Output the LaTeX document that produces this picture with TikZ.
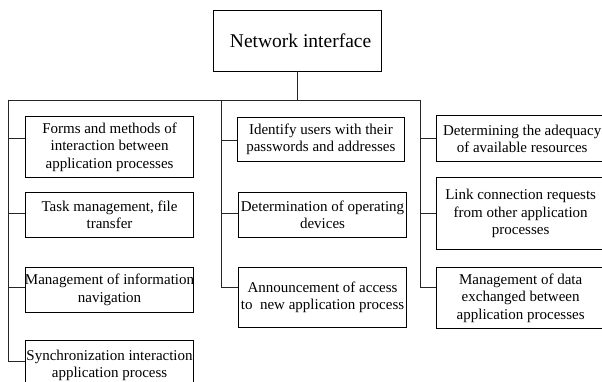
\documentclass[tikz,border=0pt]{standalone}
\usepackage{fontspec}
\setmainfont{Liberation Serif}
\newcommand\cl[1]{\makebox[0pt]{#1}}
\begin{document}
\begin{tikzpicture}[x=1pt,y=-1pt,
  box/.style={draw=black,line width=0.8pt,inner sep=0pt,anchor=north west,align=center,
    font=\fontsize{15}{17.5}\selectfont},
  wire/.style={draw=black!85,line width=0.7pt}]
\useasboundingbox (0,0) rectangle (602,382);
\clip (0,0) rectangle (602,382);
\node[box,minimum width=168pt,minimum height=60.7pt,font=\fontsize{19.5}{22}\selectfont] (title) at (212.7,10) {\cl{\hspace*{7pt}Network interface}};
% left column
\node[box,minimum width=168.3pt,minimum height=61.3pt] (forms) at (25,116) {\cl{Forms and methods of}\\\cl{interaction between}\\\cl{application processes}};
\node[box,minimum width=168.3pt,minimum height=45pt] (task) at (25,191.7) {\cl{Task management, file}\\\cl{transfer}};
\node[box,minimum width=168.3pt,minimum height=45pt] (info) at (25,266.7) {\cl{Management of information}\\\cl{navigation}};
\node[box,minimum width=168.3pt,minimum height=50pt] (sync) at (25,340) {\cl{Synchronization interaction}\\\cl{application process}};
% middle column
\node[box,minimum width=167pt,minimum height=44.3pt] (ident) at (237,116.7) {\cl{Identify users with their}\\\cl{passwords and addresses}};
\node[box,minimum width=167.7pt,minimum height=45pt] (oper) at (238.3,191.7) {\cl{Determination of operating}\\\cl{devices}};
\node[box,minimum width=167.7pt,minimum height=60.6pt] (annc) at (238.3,266.7) {\cl{Announcement of access}\\\cl{to\ \ new application process}};
% right column
\node[box,minimum width=165.5pt,minimum height=45.5pt] (adeq) at (436,115.5) {\cl{\hspace*{6pt}Determining the adequacy}\\\cl{\hspace*{6pt}of available resources}};
\node[box,minimum width=165.5pt,minimum height=72.6pt] (link) at (436,176.7) {\cl{\hspace*{3pt}Link connection requests}\\\cl{\hspace*{3pt}from other application}\\\cl{\hspace*{3pt}processes}};
\node[box,minimum width=165.5pt,minimum height=61pt] (mdata) at (436,267.3) {\cl{\hspace*{3pt}Management of data}\\\cl{\hspace*{3pt}exchanged between}\\\cl{\hspace*{3pt}application processes}};
% bus
\coordinate (busL) at (8,100);
\coordinate (busM) at (221.7,100);
\coordinate (busR) at (420,100);
\draw[wire] (title.south) -- (title.south |- busL);
\draw[wire] (busL) -- (busR);
\draw[wire] (busL) |- ([yshift=8.9pt]forms.west);
\draw[wire] (busL) |- ([yshift=0.9pt]task.west);
\draw[wire] (busL) |- ([yshift=1.9pt]info.west);
\draw[wire] (busL) |- ([yshift=-21.7pt]sync.north west);
\draw[wire] (busM) |- ([yshift=-1.1pt]ident.west);
\draw[wire] (busM) |- ([yshift=1.5pt]oper.west);
\draw[wire] (busM) |- ([yshift=10.3pt]annc.west);
\draw[wire] (busR) |- ([yshift=0.5pt]adeq.west);
\draw[wire] (busR) |- ([yshift=-0.3pt]link.west);
\draw[wire] (busR) |- ([yshift=10.5pt]mdata.west);
\end{tikzpicture}
\end{document}
